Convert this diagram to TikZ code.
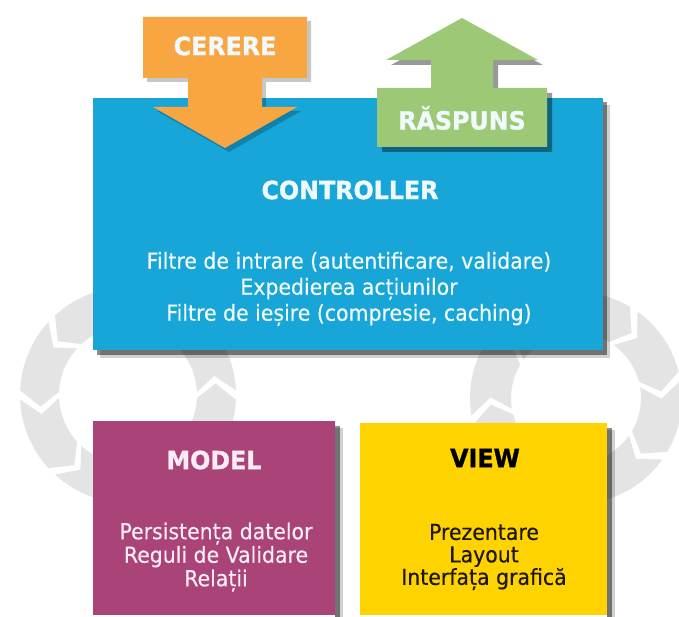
\documentclass[tikz,border=0pt]{standalone}
\usepackage{fontspec}
\setmainfont{DejaVu Sans}
\newfontfamily\titlefont{DejaVu Sans}[FakeStretch=0.95, BoldFeatures={FakeBold=1.2}]
\newfontfamily\bodyfont{DejaVu Sans}[FakeStretch=0.93, FakeBold=0.35]
\usetikzlibrary{calc}
\definecolor{ctrlblue}{RGB}{24,166,216}
\definecolor{corange}{RGB}{247,166,66}
\definecolor{cgreen}{RGB}{157,201,118}
\definecolor{cmagenta}{RGB}{170,68,120}
\definecolor{cyellow}{RGB}{255,211,0}
\definecolor{ringgray}{RGB}{228,228,228}
\definecolor{lighttxt}{RGB}{240,250,253}
\definecolor{pinktxt}{RGB}{250,236,244}
\definecolor{darktxt}{RGB}{30,24,10}
\newcommand{\chevring}[6]{%
  \begin{scope}[shift={(#1,#2)}]
    \pgfmathsetmacro\ringmid{(#3+#4)/2}
    \foreach \kk in {0,...,7}{
      \pgfmathsetmacro\segM{#5+45*\kk+22.5}
      \pgfmathsetmacro\segT{\segM-(#6)*20}
      \pgfmathsetmacro\segH{\segM+(#6)*20}
      \pgfmathsetmacro\segTn{\segT+(#6)*10}
      \pgfmathsetmacro\segHn{\segH+(#6)*10}
      \fill[ringgray] (\segT:#4) arc[start angle=\segT, end angle=\segH, radius=#4]
        -- (\segHn:\ringmid) -- (\segH:#3) arc[start angle=\segH, end angle=\segT, radius=#3]
        -- (\segTn:\ringmid) -- cycle;
    }
  \end{scope}}
\begin{document}
\begin{tikzpicture}[x=1pt,y=-1pt,
  title/.style={font=\titlefont\fontsize{25}{29}\selectfont\bfseries, inner sep=0},
  body/.style={font=\bodyfont\fontsize{22}{26}\selectfont, align=center, inner sep=0},
  boxnode/.style={draw=none, inner sep=0, anchor=north west},
  shadowsoft/.style={fill=black, opacity=0.18},
  shadowhard/.style={fill=black, opacity=0.45}]
\useasboundingbox (0,0) rectangle (679,617);
\fill[white] (0,0) rectangle (679,617);

% background chevron rings
\chevring{128}{395}{69}{108}{0}{-1}
\chevring{576}{398}{65}{106}{-12}{1}

% controller box
\fill[shadowsoft] (100,105) rectangle (610,358);
\fill[shadowhard] (97,102) rectangle (607,355);
\node[boxnode, fill=ctrlblue, minimum width=510, minimum height=252] (ctrl) at (93,98) {};

% CERERE arrow
\begin{scope}[shift={(4,4)}]
\fill[black, opacity=0.22] (143,17) -- (307,17) -- (307,78) -- (262,78) -- (262,107) -- (297,107) -- (225,148) -- (153,107) -- (188,107) -- (188,78) -- (143,78) -- cycle;
\end{scope}
\fill[corange] (143,17) -- (307,17) -- (307,78) -- (262,78) -- (262,107) -- (297,107) -- (225,148) -- (153,107) -- (188,107) -- (188,78) -- (143,78) -- cycle;

% RASPUNS arrow
\begin{scope}[shift={(5,5)}]
\fill[black, opacity=0.4] (462,18) -- (538,60) -- (493,60) -- (493,88) -- (547,88) -- (547,147) -- (377,147) -- (377,88) -- (431,88) -- (431,60) -- (386,60) -- cycle;
\end{scope}
\fill[cgreen] (462,18) -- (538,60) -- (493,60) -- (493,88) -- (547,88) -- (547,147) -- (377,147) -- (377,88) -- (431,88) -- (431,60) -- (386,60) -- cycle;

\node[title, text=lighttxt] (cerere) at (225,46) {CERERE};
\node[title, text=lighttxt] (raspuns) at (462,118) {RĂSPUNS};
\node[title, text=lighttxt] (controller) at (350,190) {CONTROLLER};
\node[body, text=lighttxt] (ctrlbody) at (349,289) {Filtre de intrare (autentificare, validare)\\Expedierea acțiunilor\\Filtre de ieșire (compresie, caching)};

% model box
\fill[shadowsoft] (335,428) rectangle (343,617);
\fill[shadowhard] (335,426) rectangle (340,617);
\node[boxnode, fill=cmagenta, minimum width=242, minimum height=194] (model) at (93,421) {};
\node[title, text=pinktxt] (modeltitle) at (214,460) {MODEL};
\node[body, text=pinktxt, font=\bodyfont\fontsize{22}{23.5}\selectfont] (modelbody) at (216,557) {Persistența datelor\\Reguli de Validare\\Relații};

% view box
\fill[shadowsoft] (607,430) rectangle (615,617);
\fill[shadowhard] (607,428) rectangle (612,617);
\node[boxnode, fill=cyellow, minimum width=247, minimum height=192] (view) at (360,423) {};
\node[title, text=black] (viewtitle) at (485,458) {VIEW};
\node[body, text=darktxt, font=\bodyfont\fontsize{22}{22.5}\selectfont] (viewbody) at (484,557) {Prezentare\\Layout\\Interfața grafică};
\end{tikzpicture}
\end{document}
